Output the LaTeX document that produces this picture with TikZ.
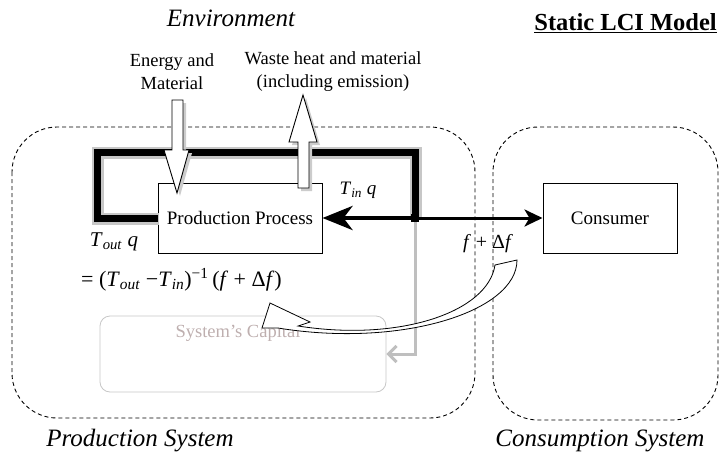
\documentclass[tikz,border=0pt]{standalone}
\usepackage{fontspec}
\setmainfont{Liberation Serif}
\usetikzlibrary{arrows.meta}
\newcommand{\mT}[1]{\textit{T}\textsubscript{\textit{#1}}}
\begin{document}
\begin{tikzpicture}[x=1pt,y=-1pt,
  lbl/.style={inner sep=0pt, align=center, font=\fontsize{18.5}{23}\selectfont},
  big/.style={inner sep=0pt, font=\fontsize{25}{30}\selectfont\itshape},
  mth/.style={inner sep=0pt, font=\fontsize{#1}{24}\selectfont},
  mth/.default=20,
  sysbox/.style={draw, line width=0.9pt, dash pattern=on 4pt off 3pt, rounded corners=45pt},
  procbox/.style={draw, line width=1pt, fill=white, inner sep=0pt, font=\fontsize{19}{23}\selectfont},
  blockarrow/.style={draw, fill=white, line width=0.9pt},
  shade/.style={fill=black!20, draw=none}]
\useasboundingbox (0,0) rectangle (720,461);

% system boundaries
\draw[sysbox] (12,127) rectangle (475,418);
\draw[sysbox] (493,127) rectangle (718,420);

% system's capital
\node[draw=black!22, line width=0.8pt, rounded corners=10pt, minimum width=286pt, minimum height=76pt, inner sep=0pt] (cap) at (243,354) {};
\node[lbl, text={rgb,255:red,190;green,175;blue,175}] (captxt) at (238,333) {System’s Capital};

% junction and frame corners
\coordinate (J) at (415,218);
\coordinate (TL) at (97,152);

% process and consumer boxes
\node[procbox, minimum width=164pt, minimum height=70pt] (pp) at (240,218) {Production Process};
\node[procbox, minimum width=134pt, minimum height=70pt] (cons) at (610,218) {Consumer};

% feedback frame (shadow + black)
\draw[black!22, line width=12pt, line join=miter, transform canvas={xshift=1pt, yshift=-1pt}] (pp.west) -| (TL) -| (J);
\draw[black, line width=7pt, line join=miter] (pp.west) -| (TL) -| (J);

% grey connector to capital
\draw[black!25, line width=3pt, -{Straight Barb[length=8pt,width=16pt,line width=3pt]}] (J) |- (cap.east);

% arrows from junction
\draw[line width=4.5pt, -{Stealth[length=30pt,width=24pt,inset=9pt]}] (J) -- (pp.east);
\draw[line width=3pt, -{Stealth[length=18pt,width=17pt,inset=5pt]}] (J) -- (cons.west);
\fill (J) ++(-4,-4) rectangle ++(8,8);

% block arrows (shadow first)
\fill[shade] (175,103) -- (186,103) -- (186,153) -- (192,153) -- (180,196) -- (167,153) -- (175,153) -- cycle;
\path[blockarrow] (172,100) -- (183,100) -- (183,150) -- (189,150) -- (177,193) -- (164,150) -- (172,150) -- cycle;
\fill[shade] (301,191) -- (312,191) -- (312,145) -- (320,145) -- (306,98) -- (292,145) -- (301,145) -- cycle;
\path[blockarrow] (298,188) -- (309,188) -- (309,142) -- (317,142) -- (303,95) -- (289,142) -- (298,142) -- cycle;

% curved hollow arrow
\path[draw, fill=white, line width=0.8pt] (270,303) -- (310,322) -- (298,326) .. controls (400,342) and (488,312) .. (495,265) -- (517,260) .. controls (517,312) and (400,348) .. (278,328) -- (262,328) -- cycle;

% texts
\node[big] (env) at (231,18) {Environment};
\node[inner sep=0pt, anchor=east, font=\fontsize{24.5}{28}\selectfont\bfseries] (title) at (717,23) {\underline{Static LCI Model}};
\node[lbl] (em) at (172,72) {Energy and\\Material};
\node[lbl] (wh) at (333,72) {Waste heat and material\\(including emission)};
\node[big] (ps) at (140,441) {Production System};
\node[big] (cs) at (600,441) {Consumption System};

% math labels
\node[mth=19] (tin) at (358,190) {\mT{in} \textit{q}};
\node[mth=21] (tout) at (114,242) {\mT{out} \textit{q}};
\node[mth=22, anchor=west] (eq) at (81,280) {= (\mT{out} −\mT{in})\textsuperscript{−1}\,(\textit{f} + Δ\textit{f})};
\node[mth=20] (fdf) at (488,244) {\textit{f} + Δ\textit{f}};
\end{tikzpicture}
\end{document}
